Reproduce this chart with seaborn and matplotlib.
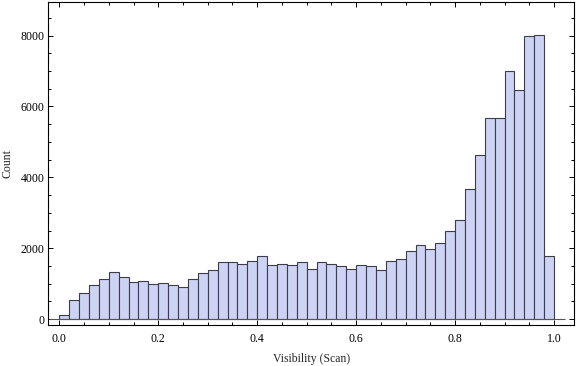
"""
Visibility histogram (scan), Mathematica-style framed look.
"""
import numpy as np
import pandas as pd
import matplotlib
matplotlib.use("Agg")
import matplotlib.pyplot as plt
import seaborn as sns
from matplotlib.ticker import MultipleLocator

# 50 bins of width 0.02 on [0, 1]
bin_lo = 0.0
bin_hi = 1.0
n_bins = 50

counts = [
    110, 535, 730, 960, 1145, 1325, 1200, 1040, 1090, 985,
    1015, 960, 900, 1145, 1295, 1380, 1605, 1605, 1550, 1635,
    1775, 1520, 1550, 1520, 1605, 1410, 1605, 1550, 1495, 1410,
    1520, 1495, 1380, 1635, 1690, 1915, 2085, 1970, 2140, 2480,
    2790, 3660, 4620, 5660, 5660, 7000, 6460, 7995, 8025, 1775,
]

x_ticks = [0.0, 0.2, 0.4, 0.6, 0.8, 1.0]
y_ticks = [0, 2000, 4000, 6000, 8000]
x_label = "Visibility (Scan)"
y_label = "Count"

sns.set_style("white")
plt.rcParams["font.family"] = ["Liberation Serif", "DejaVu Serif"]

edges = np.linspace(bin_lo, bin_hi, n_bins + 1)
df = pd.DataFrame({
    "visibility": (edges[:-1] + edges[1:]) / 2,
    "count": counts,
})

fig = plt.figure(figsize=(5.76, 3.66), dpi=100)
ax = fig.add_axes([0.0839, 0.112, 0.9127, 0.8835])

sns.histplot(
    data=df,
    x="visibility",
    weights="count",
    bins=n_bins,
    binrange=(bin_lo, bin_hi),
    color="#cdd3f5",
    edgecolor="#3d3d48",
    linewidth=0.8,
    alpha=1.0,
    ax=ax,
)

# horizontal axis line at zero
ax.hlines(0, -0.02, 1.022, color="#555555", lw=0.8, zorder=3)

ax.set_xlim(-0.0222, 1.0404)
ax.set_ylim(-165, 8955)

ax.set_xticks(x_ticks)
ax.set_xticklabels([f"{t:.1f}" for t in x_ticks])
ax.set_yticks(y_ticks)
ax.set_yticklabels([str(t) for t in y_ticks])
ax.xaxis.set_minor_locator(MultipleLocator(0.05))
ax.yaxis.set_minor_locator(MultipleLocator(500))

ax.tick_params(axis="both", which="both", direction="in",
               top=True, right=True, bottom=True, left=True,
               color="black", width=0.7, labelsize=8.5, labelcolor="black")
ax.tick_params(axis="both", which="major", length=3.8)
ax.tick_params(axis="both", which="minor", length=2.2)
ax.tick_params(axis="x", which="major", pad=5.5)
ax.tick_params(axis="y", which="major", pad=2.5)

for sp in ax.spines.values():
    sp.set_visible(True)
    sp.set_color("black")
    sp.set_linewidth(0.8)

ax.set_xlabel(x_label, fontsize=8.5, labelpad=6)
ax.set_ylabel(y_label, fontsize=8.5, labelpad=5)
ax.grid(False)

fig.savefig("out.png", dpi=100)
